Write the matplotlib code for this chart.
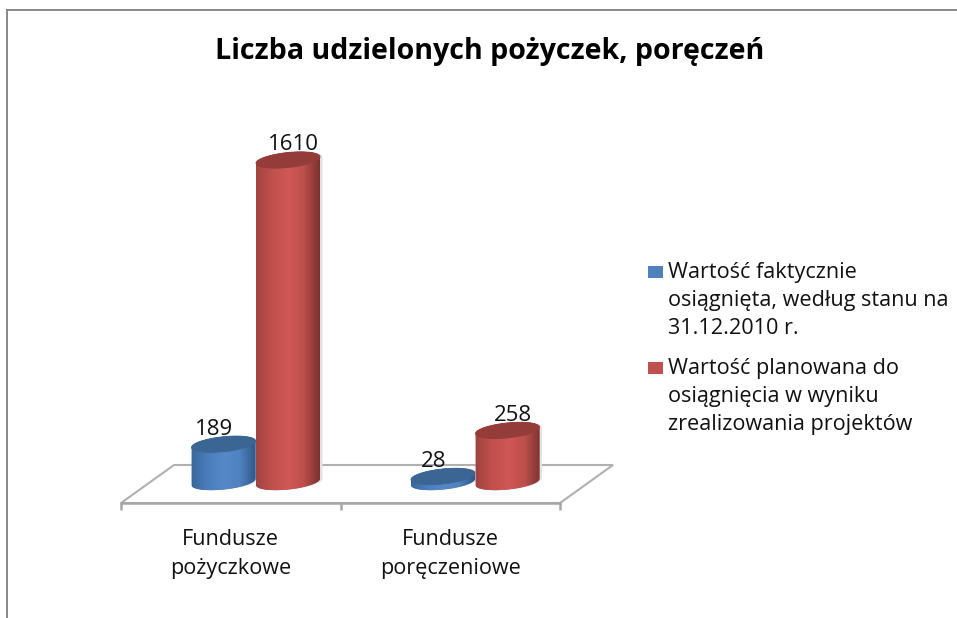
import numpy as np
import matplotlib
matplotlib.use("Agg")
import matplotlib.pyplot as plt
from matplotlib.patches import Polygon, Rectangle
from matplotlib.colors import LinearSegmentedColormap
from matplotlib.lines import Line2D

categories = ["Fundusze\npożyczkowe", "Fundusze\nporęczeniowe"]
series_names = ["Wartość faktycznie\nosiągnięta, według stanu na\n31.12.2010 r.",
                "Wartość planowana do\nosiągnięcia w wyniku\nzrealizowania projektów"]
actual = [189, 28]
planned = [1610, 258]
title = "Liczba udzielonych pożyczek, poręczeń"

W, H = 957, 618
FONT = "Open Sans"
TXT = "#111111"
plt.rcParams["font.family"] = [FONT, "DejaVu Sans"]
fig = plt.figure(figsize=(W/100, H/100), dpi=100, facecolor="white")

# Axes: front edge of the floor at pixel y=503, from x=121 to x=560
L, R, B, T = 121, 560, 503, 100
PXV = 0.2          # pixels per value unit
BASE = 482         # pixel row of value 0 at bar depth
ax = fig.add_axes([L/W, 1-B/H, (R-L)/W, (B-T)/H])
ax.set_xlim(-0.5, 1.5)
ax.set_ylim(-(B-BASE)/PXV, (BASE-T)/PXV)
ax.patch.set_alpha(0)
pxx = 2/(R-L)      # data per pixel, x
pxy = 1/PXV        # data per pixel, y

for s in ["top", "left", "right"]:
    ax.spines[s].set_visible(False)
ax.spines["bottom"].set_color("#a6a6a6")
ax.spines["bottom"].set_linewidth(1.8)
ax.set_yticks([])
ax.set_xticks([0, 1])
ax.set_xticklabels(categories, fontsize=15.6, color=TXT, linespacing=1.5)
ax.tick_params(axis="x", length=0, pad=19)
ax.set_xticks([-0.5, 0.5, 1.5], minor=True)
ax.tick_params(axis="x", which="minor", length=5, width=1.8, color="#a6a6a6")

# Floor
y0 = ax.get_ylim()[0]
fl = [(-0.5, y0), (-0.5+53*pxx, y0+38*pxy), (1.5+53*pxx, y0+38*pxy), (1.5, y0)]
ax.add_patch(Polygon(fl, closed=True, fc="white", ec="#b0b0b0", lw=1.5, clip_on=False, zorder=1))

# Cylinders
DEPTH_X = 25*pxx
GROUP = 32.25*pxx
A = 32*pxx
Bq = 7.5*pxy
TILT = 0.1*pxy/pxx

def ell(cx, cy, t):
    return np.c_[cx + A*np.cos(t), cy + Bq*np.sin(t) + TILT*A*np.cos(t)]

def cylinder(cx, v, body, cap, edge, z):
    front = ell(cx, 0, np.linspace(np.pi, 2*np.pi, 50))
    back = ell(cx, v, np.linspace(0, np.pi, 50))
    verts = np.vstack([front, back])
    ax.add_patch(Polygon(verts + [2.5*pxx, 0], closed=True, fc="#e2e2e2", ec="none",
                         zorder=z-0.1, clip_on=False))
    ax.add_patch(Polygon(verts, closed=True, fc=body[1], ec="none", zorder=z, clip_on=False))
    cmap = LinearSegmentedColormap.from_list("c", body)
    im = ax.imshow(np.linspace(0, 1, 128)[None, :], cmap=cmap, aspect="auto",
                   extent=[cx-A, cx+A, -300, v+300], zorder=z+0.1)
    im.set_clip_path(Polygon(verts, closed=True, transform=ax.transData))
    ax.add_patch(Polygon(ell(cx, v, np.linspace(0, 2*np.pi, 80)), closed=True, fc=cap,
                         ec=edge, lw=0.6, zorder=z+0.2, clip_on=False))

BLUE = ["#3a689c", "#4a7ebb", "#5688c8", "#4f82c0", "#2f5888"]
RED = ["#a04441", "#c0504d", "#cf5856", "#bd4f4c", "#7a3230"]
for i, cat in enumerate(categories):
    cx = i + DEPTH_X
    cylinder(cx-GROUP, actual[i], BLUE, "#3b6694", "#3b6694", 3)
    cylinder(cx+GROUP, planned[i], RED, "#943c3a", "#943c3a", 4)
    ax.annotate(str(actual[i]), (cx-GROUP, actual[i]), xytext=(-7, 10.5), textcoords="offset points",
                ha="center", va="center", fontsize=16, color=TXT, zorder=6, annotation_clip=False)
    ax.annotate(str(planned[i]), (cx+GROUP, planned[i]), xytext=(4, 11), textcoords="offset points",
                ha="center", va="center", fontsize=16, color=TXT, zorder=6, annotation_clip=False)
ax.set_xlim(-0.5, 1.5)
ax.set_ylim(-(B-BASE)/PXV, (BASE-T)/PXV)

# Title
fig.text(490/W, 1-51/H, title, ha="center", va="center", fontsize=20.6, fontweight="bold", color="#000000")

# Legend
def legend_entry(y_first, text, color):
    fig.add_artist(Rectangle((648/W, 1-(y_first+7)/H), 15/W, 12/H, transform=fig.transFigure, fc=color, ec="none"))
    fig.text(668/W, 1-(y_first-9)/H, text, ha="left", va="top", fontsize=15.6, color=TXT, linespacing=1.45)
legend_entry(271, series_names[0], "#4f81bd")
legend_entry(367, series_names[1], "#c0504d")

# Page frame
fig.add_artist(Line2D([7.5/W, 7.5/W], [0, 1-9.5/H], transform=fig.transFigure, color="#808080", lw=1.3))
fig.add_artist(Line2D([7/W, 957/W], [1-9.5/H, 1-9.5/H], transform=fig.transFigure, color="#808080", lw=1.3))

fig.savefig("out.png", dpi=100)
